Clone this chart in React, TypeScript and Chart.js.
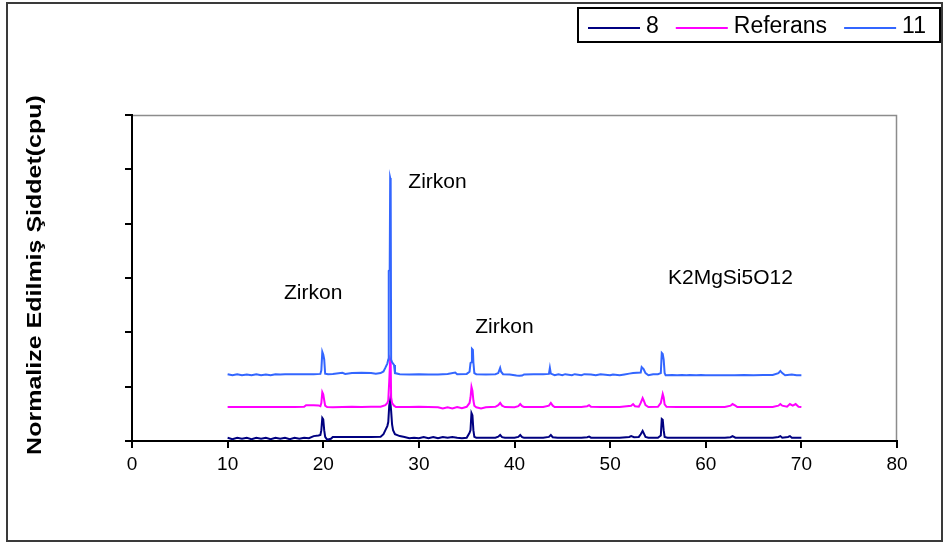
import React, { useEffect, useRef } from "react";
import { Chart, registerables } from "chart.js";

Chart.register(...registerables);

// ---------- DATA ----------
const seriesLabels = ["8", "Referans", "11"];
const seriesColors = ["#000080", "#FF00FF", "#3366FF"];

const xMin = 0;
const xMax = 80;
const xStep = 10;
const yMin = 0;
const yMax = 1200;
const yStep = 200;

const yAxisTitle = "Normalize Edilmiş Şiddet(cpu)";

// [2θ, intensity] — series "8"
const series8: [number, number][] = [
  [10, 12], [10.5, 7], [11, 12], [11.5, 8], [12, 12], [12.5, 7], [13, 12], [13.5, 8], [14, 12], [14.5, 7],
  [15, 12], [15.5, 8], [16, 12], [16.5, 7], [17, 12], [17.5, 8], [18, 12], [18.5, 10], [19, 18], [19.5, 20],
  [19.7, 22], [19.8, 40], [19.9, 85], [20.0, 80], [20.1, 40], [20.2, 15], [20.4, 5], [20.8, 8], [21, 15], [22, 15],
  [23, 15], [24, 15], [25, 15], [26, 16], [26.3, 25], [26.5, 40], [26.7, 55], [26.8, 70], [26.9, 130], [27.0, 151],
  [27.1, 110], [27.2, 60], [27.3, 40], [27.5, 25], [28, 18], [28.5, 15], [29, 10], [29.5, 12], [30, 10], [30.5, 15],
  [31, 10], [31.5, 15], [32, 10], [32.5, 15], [33, 12], [33.5, 15], [34, 12], [34.5, 10], [35, 12], [35.3, 30],
  [35.4, 40], [35.5, 103], [35.6, 95], [35.7, 40], [35.8, 15], [36, 12], [37, 12], [38, 12], [38.3, 16], [38.5, 22],
  [38.7, 14], [39, 12], [40, 12], [40.4, 15], [40.6, 22], [40.8, 14], [41, 12], [42, 12], [43, 12], [43.6, 15],
  [43.8, 22], [44, 14], [44.5, 12], [45, 12], [46, 12], [47, 12], [47.6, 14], [47.8, 16], [48, 12], [49, 12],
  [50, 12], [51, 12], [52, 15], [52.2, 18], [52.5, 14], [53, 15], [53.2, 25], [53.4, 37], [53.5, 30], [53.7, 15],
  [54, 12], [55, 12], [55.3, 20], [55.4, 81], [55.5, 78], [55.6, 40], [55.7, 15], [56, 12], [57, 12], [58, 12],
  [59, 12], [60, 12], [61, 12], [62, 12], [62.6, 14], [62.8, 18], [63.1, 12], [64, 12], [65, 12], [66, 12],
  [67, 12], [67.6, 15], [67.8, 18], [68, 12], [68.6, 15], [68.8, 18], [69, 12], [70, 12],
];

// [2θ, intensity] — series "Referans"
const seriesRef: [number, number][] = [
  [10, 125], [11, 125], [12, 125], [13, 125], [14, 125], [15, 125], [16, 125], [17, 125], [18, 126], [18.2, 132],
  [19, 132], [19.5, 131], [19.7, 128], [19.8, 140], [19.9, 180], [20.0, 172], [20.1, 150], [20.2, 130], [20.4, 125], [21, 124],
  [22, 125], [23, 126], [24, 125], [25, 126], [26, 126], [26.5, 132], [26.7, 140], [26.8, 150], [26.9, 220], [27.0, 300],
  [27.05, 295], [27.1, 160], [27.2, 140], [27.4, 130], [27.6, 125], [28, 125], [29, 125], [30, 126], [31, 125], [32, 124],
  [32.5, 120], [33, 124], [33.5, 120], [34, 125], [34.5, 121], [35, 126], [35.3, 140], [35.4, 160], [35.5, 199], [35.6, 185],
  [35.7, 150], [35.8, 130], [36, 124], [36.5, 120], [37, 124], [37.5, 125], [38, 126], [38.3, 132], [38.5, 140], [38.7, 130],
  [39, 125], [40, 124], [40.4, 128], [40.6, 136], [40.8, 128], [41, 125], [42, 125], [43, 125], [43.6, 130], [43.8, 140],
  [44, 130], [44.2, 125], [45, 125], [46, 125], [47, 125], [47.6, 128], [47.8, 132], [48, 126], [49, 125], [50, 125],
  [51, 125], [52.2, 130], [52.4, 136], [52.6, 128], [53, 126], [53.2, 140], [53.4, 158], [53.5, 150], [53.7, 132], [54, 125],
  [55, 126], [55.3, 140], [55.5, 173], [55.6, 160], [55.7, 135], [55.9, 126], [57, 125], [58, 125], [59, 125], [60, 125],
  [61, 125], [62, 125], [62.6, 130], [62.8, 136], [63.1, 130], [63.3, 125], [64, 125], [65, 125], [66, 125], [67, 125],
  [67.6, 130], [67.8, 136], [68, 130], [68.5, 126], [68.8, 136], [69.1, 130], [69.4, 136], [69.7, 126], [70, 125],
];

// [2θ, intensity] — series "11"
const series11: [number, number][] = [
  [10, 246], [10.5, 242], [11, 246], [11.5, 242], [12, 245], [12.5, 242], [13, 246], [13.5, 242], [14, 245], [14.5, 242],
  [15, 246], [15.5, 245], [16, 246], [17, 246], [18, 246], [19, 246], [19.7, 247], [19.8, 260], [19.9, 328], [20.0, 318],
  [20.1, 300], [20.2, 248], [20.5, 246], [21, 247], [22, 251], [22.3, 247], [23, 250], [24, 251], [25, 250], [25.5, 248],
  [26, 250], [26.3, 256], [26.5, 270], [26.7, 285], [26.8, 300], [26.85, 626], [26.95, 630], [27.0, 968], [27.05, 960], [27.1, 300],
  [27.2, 290], [27.4, 280], [27.5, 250], [28, 246], [29, 245], [30, 246], [31, 245], [32, 245], [33, 247], [33.8, 252],
  [34, 246], [35, 247], [35.3, 255], [35.4, 287], [35.5, 290], [35.55, 339], [35.65, 335], [35.7, 290], [35.8, 250], [36, 246],
  [37, 245], [38, 246], [38.3, 250], [38.5, 269], [38.6, 255], [38.8, 246], [39.5, 245], [40.2, 241], [40.5, 240], [40.8, 241],
  [41, 245], [42, 246], [43, 246], [43.6, 247], [43.7, 269], [43.8, 248], [44.2, 242], [44.6, 246], [45, 242], [45.3, 246],
  [46, 242], [46.3, 246], [47, 242], [47.3, 246], [48, 245], [48.5, 242], [49, 246], [50, 242], [50.3, 245], [51, 242],
  [51.5, 245], [52, 248], [52.4, 250], [53.2, 252], [53.3, 272], [53.5, 265], [53.7, 250], [54, 242], [54.5, 246], [55, 246],
  [55.3, 250], [55.4, 324], [55.5, 320], [55.6, 300], [55.7, 250], [55.8, 242], [56.5, 243], [57, 242], [57.5, 243], [58, 242],
  [58.3, 243], [59, 242], [59.5, 243], [60, 242], [61, 242], [62, 242], [63, 242], [64, 243], [65, 242], [66, 243],
  [67, 243], [67.6, 250], [67.8, 258], [68, 250], [68.3, 242], [69, 245], [69.5, 242], [70, 242],
];

// text annotations, in data coordinates (left edge, vertical centre)
const annotationTexts = ["Zirkon", "Zirkon", "Zirkon", "K2MgSi5O12"];
const annotationX = [15.9, 28.9, 35.9, 56.05];
const annotationY = [545, 953, 420, 600];

// ---------- LAYOUT / STYLE ----------
const W = 944;
const H = 545;
const FONT = "'Liberation Sans', Arial, Helvetica, sans-serif";
const PLOT = { left: 132, top: 115, right: 897, bottom: 441 };

const framePlugin = {
  id: "frame",
  beforeDraw(chart: any) {
    const ctx = chart.ctx;
    ctx.save();
    ctx.fillStyle = "#ffffff";
    ctx.fillRect(0, 0, chart.width, chart.height);
    ctx.strokeStyle = "#3a3a3a";
    ctx.lineWidth = 2;
    ctx.strokeRect(7, 3, 935, 538);
    // plot area grey border (top & right)
    const a = chart.chartArea;
    ctx.strokeStyle = "#8c8c8c";
    ctx.lineWidth = 1.5;
    ctx.beginPath();
    ctx.moveTo(a.left, a.top + 0.5);
    ctx.lineTo(a.right - 0.5, a.top + 0.5);
    ctx.lineTo(a.right - 0.5, a.bottom);
    ctx.stroke();
    ctx.restore();
  },
  afterDraw(chart: any) {
    const ctx = chart.ctx;
    const xs = chart.scales.x;
    const ys = chart.scales.y;
    ctx.save();
    // annotations
    ctx.fillStyle = "#000";
    ctx.font = `21px ${FONT}`;
    ctx.textAlign = "left";
    ctx.textBaseline = "middle";
    annotationTexts.forEach((t, i) => {
      ctx.fillText(t, xs.getPixelForValue(annotationX[i]), ys.getPixelForValue(annotationY[i]));
    });
    // y-axis title (stretched like the original)
    ctx.save();
    ctx.translate(35, 275);
    ctx.rotate(-Math.PI / 2);
    ctx.scale(1.25, 1);
    ctx.font = `bold 20px ${FONT}`;
    ctx.textAlign = "center";
    ctx.textBaseline = "middle";
    ctx.fillText(yAxisTitle, 0, 0);
    ctx.restore();
    // legend
    const lx = 578, ly = 8, lw = 362, lh = 34;
    ctx.strokeStyle = "#000";
    ctx.lineWidth = 2;
    ctx.strokeRect(lx, ly, lw, lh);
    ctx.font = `23px ${FONT}`;
    ctx.textBaseline = "middle";
    let x = 588;
    const cy = 27;
    chart.data.datasets.forEach((ds: any) => {
      ctx.strokeStyle = ds.borderColor;
      ctx.lineWidth = 2;
      ctx.beginPath();
      ctx.moveTo(x, cy + 1);
      ctx.lineTo(x + 52, cy + 1);
      ctx.stroke();
      ctx.fillStyle = "#000";
      ctx.fillText(ds.label, x + 58, cy);
      x = x + 58 + ctx.measureText(ds.label).width + 17;
    });
    ctx.restore();
  },
};

export default function App() {
  const canvasRef = useRef<HTMLCanvasElement | null>(null);

  useEffect(() => {
    document.body.style.margin = "0";
    document.body.style.overflow = "hidden";
    const canvas = canvasRef.current;
    if (!canvas) return;
    const allSeries = [series8, seriesRef, series11];
    const chart = new Chart(canvas, {
      type: "line",
      data: {
        datasets: allSeries.map((s, i) => ({
          label: seriesLabels[i],
          data: s.map(([x, y]) => ({ x, y })),
          borderColor: seriesColors[i],
          backgroundColor: seriesColors[i],
          borderWidth: 2,
          pointRadius: 0,
          tension: 0,
          fill: false,
          order: 3 - i,
        })),
      },
      options: {
        responsive: false,
        animation: false,
        events: [],
        layout: {
          padding: { left: 0, top: PLOT.top, right: W - PLOT.right, bottom: 0 },
        },
        plugins: {
          legend: { display: false },
          tooltip: { enabled: false },
          title: { display: false },
        },
        scales: {
          x: {
            type: "linear",
            min: xMin,
            max: xMax,
            afterFit(scale: any) {
              scale.height = H - PLOT.bottom;
            },
            ticks: {
              stepSize: xStep,
              color: "#000",
              font: { family: FONT, size: 19 },
              padding: 5,
            },
            grid: {
              drawOnChartArea: false,
              drawTicks: true,
              tickLength: 7,
              color: "#000",
              lineWidth: 2,
            },
            border: { display: true, color: "#000", width: 2 },
          },
          y: {
            type: "linear",
            min: yMin,
            max: yMax,
            afterFit(scale: any) {
              scale.width = PLOT.left;
            },
            ticks: { stepSize: yStep, display: false },
            grid: {
              drawOnChartArea: false,
              drawTicks: true,
              tickLength: 7,
              color: "#000",
              lineWidth: 2,
            },
            border: { display: true, color: "#000", width: 2 },
          },
        },
      },
      plugins: [framePlugin],
    });
    return () => chart.destroy();
  }, []);

  return <canvas ref={canvasRef} width={W} height={H} style={{ display: "block" }} />;
}
